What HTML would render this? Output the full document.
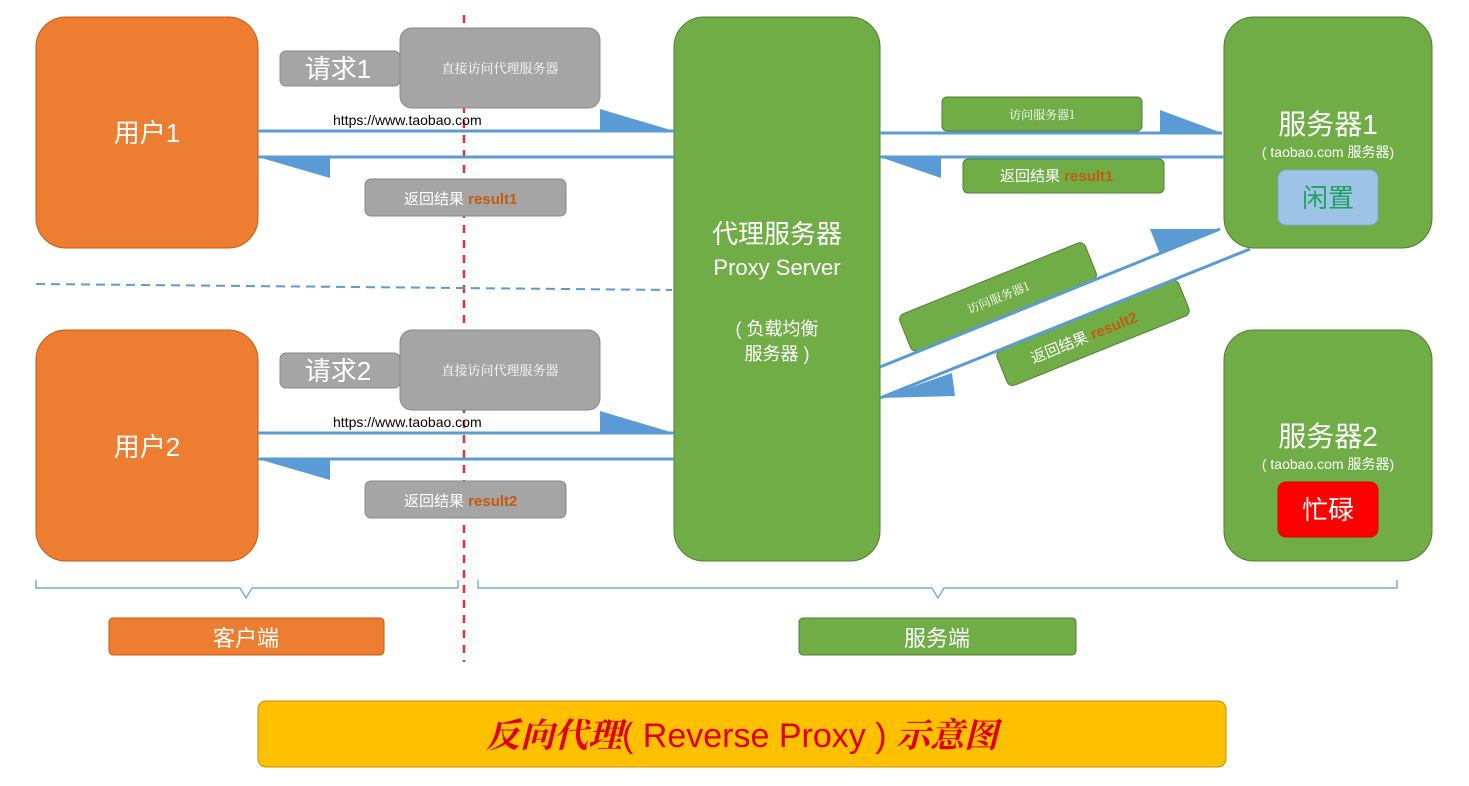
<!DOCTYPE html>
<html><head><meta charset="utf-8"><style>
body{margin:0;background:#fff}
svg{display:block;font-family:"Liberation Sans","Noto Sans CJK SC",sans-serif}
</style></head><body>
<svg width="1469" height="786" viewBox="0 0 1469 786">
<rect x="36" y="17" width="222" height="231" rx="30" fill="#ed7d31" stroke="#c55a11" stroke-width="1"/>
<text x="147" y="142" font-size="26" fill="#fff" text-anchor="middle">用户1</text>
<rect x="36" y="330" width="222" height="231" rx="30" fill="#ed7d31" stroke="#c55a11" stroke-width="1"/>
<text x="147" y="456" font-size="26" fill="#fff" text-anchor="middle">用户2</text>
<rect x="674" y="17" width="206" height="544" rx="30" fill="#70ad47" stroke="#507e32"/>
<text x="777" y="243" font-size="26" fill="#fff" text-anchor="middle">代理服务器</text>
<text x="777" y="275" font-size="22" fill="#fff" text-anchor="middle">Proxy Server</text>
<text x="777" y="335" font-size="18" fill="#fff" text-anchor="middle">( 负载均衡</text>
<text x="777" y="360" font-size="18" fill="#fff" text-anchor="middle">服务器 )</text>
<rect x="1224" y="17" width="208" height="231" rx="30" fill="#70ad47" stroke="#507e32"/>
<text x="1328" y="134" font-size="28" fill="#fff" text-anchor="middle">服务器1</text>
<text x="1328" y="157" font-size="14" fill="#fff" text-anchor="middle">( taobao.com 服务器)</text>
<rect x="1278" y="170" width="100" height="55" rx="8" fill="#9dc3e6" stroke="#7fa7cf"/>
<text x="1328" y="207" font-size="26" fill="#1fa35c" text-anchor="middle">闲置</text>
<rect x="1224" y="330" width="208" height="231" rx="30" fill="#70ad47" stroke="#507e32"/>
<text x="1328" y="446" font-size="28" fill="#fff" text-anchor="middle">服务器2</text>
<text x="1328" y="469" font-size="14" fill="#fff" text-anchor="middle">( taobao.com 服务器)</text>
<rect x="1278" y="482" width="100" height="55" rx="8" fill="#ff0000" stroke="#d00"/>
<text x="1328" y="519" font-size="26" fill="#fff" text-anchor="middle">忙碌</text>

<line x1="464" y1="15" x2="464" y2="662" stroke="#e03030" stroke-width="2.5" stroke-dasharray="8,7"/>
<line x1="36" y1="284" x2="672" y2="290" stroke="#5b9bd5" stroke-width="2" stroke-dasharray="9,6"/>

<rect x="280" y="51" width="120" height="35" rx="6" fill="#a5a5a5" stroke="#888"/>
<text x="338" y="78" font-size="26" fill="#fff" text-anchor="middle">请求1</text>
<rect x="400" y="28" width="200" height="80" rx="12" fill="#a5a5a5" stroke="#888"/>
<text x="500" y="73" font-size="13" fill="#fff" text-anchor="middle" font-family="Noto Serif CJK SC,serif">直接访问代理服务器</text>
<rect x="280" y="353" width="120" height="35" rx="6" fill="#a5a5a5" stroke="#888"/>
<text x="338" y="380" font-size="26" fill="#fff" text-anchor="middle">请求2</text>
<rect x="400" y="330" width="200" height="80" rx="12" fill="#a5a5a5" stroke="#888"/>
<text x="500" y="375" font-size="13" fill="#fff" text-anchor="middle" font-family="Noto Serif CJK SC,serif">直接访问代理服务器</text>
<text x="333" y="125" font-size="14" fill="#000">https://www.taobao.com</text>
<text x="333" y="427" font-size="14" fill="#000">https://www.taobao.com</text>
<rect x="365" y="179" width="201" height="37" rx="6" fill="#a5a5a5" stroke="#888"/>
<text x="404" y="204" font-size="15" fill="#fff">返回结果 <tspan fill="#c55a11" font-weight="bold">result1</tspan></text>
<rect x="365" y="481" width="201" height="37" rx="6" fill="#a5a5a5" stroke="#888"/>
<text x="404" y="506" font-size="15" fill="#fff">返回结果 <tspan fill="#c55a11" font-weight="bold">result2</tspan></text>

<g fill="#5b9bd5" stroke="#5b9bd5">
<line x1="258" y1="131" x2="674" y2="131" stroke-width="3"/>
<polygon points="600,109 674,131 600,131" stroke="none"/>
<line x1="258" y1="157" x2="674" y2="157" stroke-width="3"/>
<polygon points="258,157 330,157 330,178" stroke="none"/>
<line x1="258" y1="433" x2="674" y2="433" stroke-width="3"/>
<polygon points="600,411 674,433 600,433" stroke="none"/>
<line x1="258" y1="459" x2="674" y2="459" stroke-width="3"/>
<polygon points="258,459 330,459 330,480" stroke="none"/>
<line x1="880" y1="133" x2="1222" y2="133" stroke-width="3"/>
<polygon points="1160,110 1222,133 1160,133" stroke="none"/>
<line x1="880" y1="157" x2="1224" y2="157" stroke-width="3"/>
<polygon points="880,157 941,157 941,178" stroke="none"/>
</g>
<rect x="942" y="97" width="200" height="34" rx="5" fill="#70ad47" stroke="#507e32"/>
<text x="1042" y="119" font-size="12" fill="#fff" text-anchor="middle" font-family="Noto Serif CJK SC,serif">访问服务器1</text>
<rect x="963" y="159" width="201" height="34" rx="5" fill="#70ad47" stroke="#507e32"/>
<text x="1000" y="181" font-size="15" fill="#fff">返回结果 <tspan fill="#c55a11" font-weight="bold">result1</tspan></text>

<g transform="translate(998,297) rotate(-22)">
<rect x="-100" y="-20" width="200" height="40" rx="6" fill="#70ad47" stroke="#507e32"/>
<text x="0" y="5" font-size="12" fill="#fff" text-anchor="middle" font-family="Noto Serif CJK SC,serif">访问服务器1</text>
</g>
<g transform="translate(1093,333) rotate(-22)">
<rect x="-98" y="-19" width="196" height="38" rx="6" fill="#70ad47" stroke="#507e32"/>
<text x="-10" y="6" font-size="15" fill="#fff" text-anchor="middle">返回结果 <tspan fill="#c55a11" font-weight="bold">result2</tspan></text>
</g>
<g fill="#5b9bd5" stroke="#5b9bd5">
<line x1="880" y1="367" x2="1220" y2="229" stroke-width="3"/>
<polygon points="1150,229 1220,229 1160,254" stroke="none"/>
<line x1="1250" y1="249" x2="880" y2="398" stroke-width="3"/>
<polygon points="880,398 952,373 955,396" stroke="none"/>
</g>

<g fill="none" stroke="#5b9bd5" stroke-width="1.2">
<path d="M36,580 V588 H240 L246,598 L252,588 H458 V580"/>
<path d="M478,580 V588 H932 L938,598 L944,588 H1397 V580"/>
</g>
<rect x="109" y="618" width="275" height="37" rx="4" fill="#ed7d31" stroke="#c55a11"/>
<text x="246" y="646" font-size="22" fill="#fff" text-anchor="middle">客户端</text>
<rect x="799" y="618" width="277" height="37" rx="4" fill="#70ad47" stroke="#507e32"/>
<text x="937" y="646" font-size="22" fill="#fff" text-anchor="middle">服务端</text>

<rect x="258" y="701" width="968" height="66" rx="8" fill="#ffc000" stroke="#c09000"/>
<text x="742" y="747" font-size="34" fill="#e00000" text-anchor="middle"><tspan font-weight="bold" font-style="italic" font-family="Noto Serif CJK SC,serif">反向代理</tspan>( Reverse Proxy ) <tspan font-weight="bold" font-style="italic" font-family="Noto Serif CJK SC,serif">示意图</tspan></text>
</svg>
</body></html>
